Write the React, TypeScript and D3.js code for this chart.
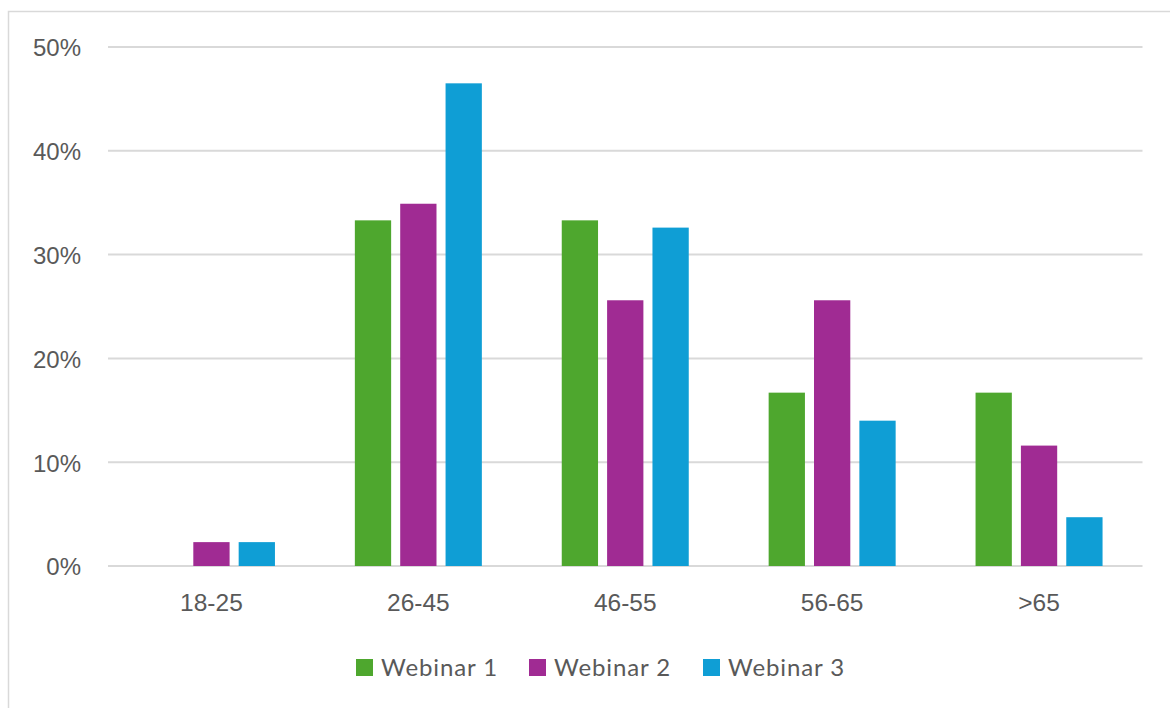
import React from "react";
import * as d3 from "d3";

const categories = ["18-25", "26-45", "46-55", "56-65", ">65"];
const seriesNames = ["Webinar 1", "Webinar 2", "Webinar 3"];
const webinar1 = [0, 33.3, 33.3, 16.7, 16.7];
const webinar2 = [2.3, 34.9, 25.6, 25.6, 11.6];
const webinar3 = [2.3, 46.5, 32.6, 14.0, 4.7];
const yTicks = [0, 10, 20, 30, 40, 50];
const colors = ["#4EA72E", "#A02B93", "#0F9ED5"];

const W = 1170;
const H = 708;
const plot = { left: 108, right: 1142.5, top: 47, bottom: 566 };

export default function App() {
  const series = [webinar1, webinar2, webinar3];
  const x = d3.scaleBand<string>().domain(categories).range([plot.left, plot.right]).paddingInner(0).paddingOuter(0);
  const y = d3.scaleLinear().domain([0, 50]).range([plot.bottom, plot.top]);
  const groupW = 127;
  const inner = d3.scaleBand<string>().domain(seriesNames).range([0, groupW]).paddingInner(0.2).paddingOuter(0);
  const legendX = [356, 529, 703];
  return (
    <div style={{ position: "absolute", left: 0, top: 0 }}>
      <svg width={W} height={H} style={{ display: "block", background: "#fff" }}>
        <rect x={8.5} y={11.5} width={W + 20} height={H + 20} fill="#fff" stroke="#D9D9D9" strokeWidth={1.5} />
        {yTicks.map((t) => (
          <g key={t}>
            <line x1={plot.left} x2={plot.right} y1={y(t)} y2={y(t)} stroke="#D9D9D9" strokeWidth={2} />
            <text x={81} y={y(t) + 1} dy="0.35em" textAnchor="end" fill="#595959" fontFamily="Liberation Sans, Arial, sans-serif" fontSize={24}>
              {t}%
            </text>
          </g>
        ))}
        {categories.map((c, i) => {
          const gx = (x(c) as number) + x.bandwidth() / 2 - groupW / 2;
          return (
            <g key={c}>
              {series.map((s, k) => {
                const v = s[i];
                if (v <= 0) return null;
                const bx = gx + (inner(seriesNames[k]) as number);
                return (
                  <rect key={k} x={bx} y={y(v)} width={inner.bandwidth()} height={y(0) - y(v)} fill={colors[k]} />
                );
              })}
              <text x={(x(c) as number) + x.bandwidth() / 2} y={602} dy="0.35em" textAnchor="middle" fill="#595959" fontFamily="Liberation Sans, Arial, sans-serif" fontSize={24.5}>
                {c}
              </text>
            </g>
          );
        })}
        {seriesNames.map((n, k) => (
          <g key={n}>
            <rect x={legendX[k]} y={659} width={17} height={17} fill={colors[k]} />
            <text x={legendX[k] + 25} y={668} dy="0.35em" fill="#595959" fontFamily="Lato, sans-serif" fontSize={24} letterSpacing={0.9}>
              {n}
            </text>
          </g>
        ))}
      </svg>
    </div>
  );
}
